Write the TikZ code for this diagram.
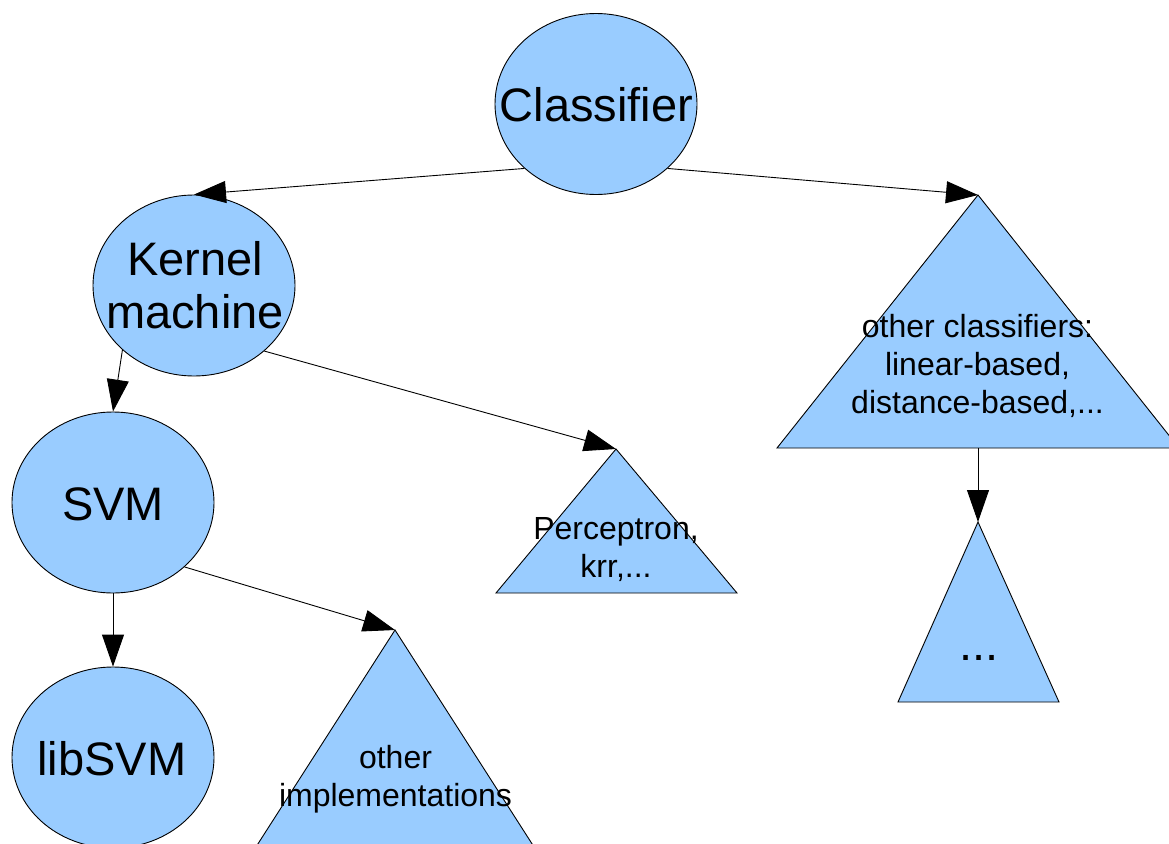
\documentclass[tikz,border=0pt]{standalone}
\usepackage{fontspec}
\setmainfont{Liberation Sans}
\usetikzlibrary{shapes.geometric,arrows.meta}
\definecolor{bubble}{HTML}{99CCFF}
\tikzset{
  blob/.style={ellipse, draw=black, fill=bubble, line width=0.9pt,
    minimum width=202pt, minimum height=181pt, inner sep=0pt},
  tri/.style={draw=black, fill=bubble, line width=0.9pt},
  big/.style={font=\fontsize{47}{53}\selectfont, anchor=base, inner sep=0pt, align=center},
  small/.style={font=\fontsize{32}{38}\selectfont, anchor=base, inner sep=0pt, align=center},
  link/.style={line width=0.9pt, -{Triangle[length=32pt,width=22pt]}},
}
\begin{document}
\begin{tikzpicture}[x=1pt,y=-1pt]
  \clip (0,0) rectangle (1169,843);
  \fill[white] (0,0) rectangle (1169,843);

  % round nodes
  \node[blob] (cls)  at (596,104) {};
  \node[blob] (kern) at (194,285.5) {};
  \node[blob] (svm)  at (113,502.5) {};
  \node[blob] (lib)  at (113,757.5) {};

  % labels are placed by the baseline of their last line
  \node[big] (clsT)  at (596.5,121) {Classifier};
  \node[big] (kernT) at (195,328) {Kernel\\machine};
  \node[big] (svmT)  at (113,520) {SVM};
  \node[big] (libT)  at (112,775) {libSVM};

  % triangular groups
  \coordinate (othA) at (978,195);
  \coordinate (othB) at (978,448);
  \draw[tri] (othA) -- (1179,448) -- (777,448) -- cycle;
  \node[small] (othT) at (977.5,413) {other classifiers:\\linear-based,\\distance-based,...};

  \coordinate (perA) at (616,449);
  \draw[tri] (perA) -- (737,593) -- (496,593) -- cycle;
  \node[small] (perT) at (616,577) {Perceptron,\\krr,...};

  \coordinate (dotA) at (978,522);
  \draw[tri] (dotA) -- (1059,702) -- (898,702) -- cycle;
  \node[big] (dotT) at (979,660) {...};

  \coordinate (impA) at (395,630);
  \draw[tri] (impA) -- (536,850) -- (254,850) -- cycle;
  \node[small] (impT) at (395.5,806) {other\\implementations};

  % connectors
  \draw[link] (cls.222.5) -- (kern.north);
  \draw[link] (cls.318) -- (othA);
  \draw[link] (kern.222.3) -- (svm.north);
  \draw[link] (kern.317.3) -- (perA);
  \draw[link] (svm.south) -- (lib.north);
  \draw[link] (svm.318) -- (impA);
  \draw[link] (othB) -- (dotA);
\end{tikzpicture}
\end{document}
